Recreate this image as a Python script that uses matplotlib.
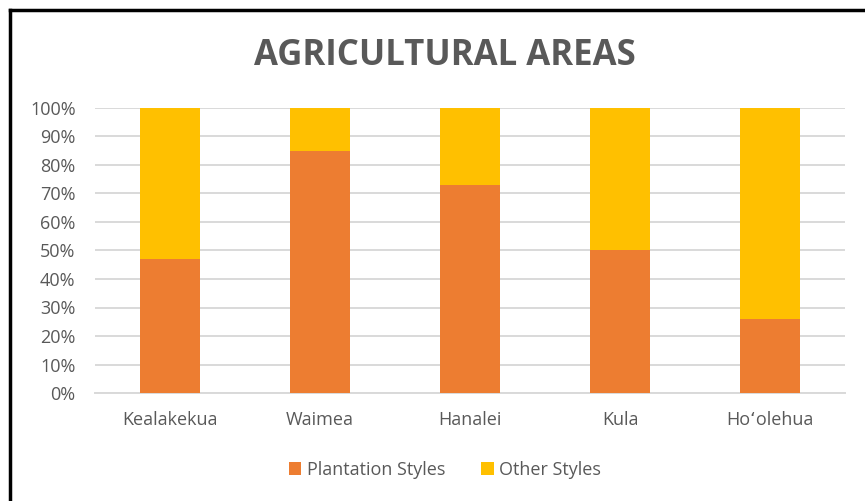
"""Stacked percentage bars: plantation vs other styles by agricultural area."""

import matplotlib.pyplot as plt
from matplotlib.lines import Line2D
from matplotlib.ticker import PercentFormatter

areas = ["Kealakekua", "Waimea", "Hanalei", "Kula", "Ho\u02bbolehua"]
plantation = [47, 85, 73, 50, 26]
other = [53, 15, 27, 50, 74]

ORANGE = "#ED7D31"
GOLD = "#FFC000"
TEXT = "#595959"
GRID = "#D9D9D9"

plt.rcParams["font.family"] = ["Open Sans", "DejaVu Sans"]

fig = plt.figure(figsize=(8.65, 5.01), dpi=100)
ax = fig.add_axes([95 / 865, 1 - 393 / 501, 750 / 865, 285 / 501])

x = range(len(areas))
ax.bar(x, plantation, width=0.4, color=ORANGE, label="Plantation Styles", zorder=3)
ax.bar(x, other, width=0.4, bottom=plantation, color=GOLD, label="Other Styles", zorder=3)

ax.set_xlim(-0.5, len(areas) - 0.5)
ax.set_ylim(0, 100)
ax.set_yticks(range(0, 101, 10))
ax.yaxis.set_major_formatter(PercentFormatter(decimals=0))
ax.set_xticks(list(x))
ax.set_xticklabels(areas)
ax.tick_params(axis="both", length=0, labelsize=13, colors=TEXT)
ax.tick_params(axis="x", pad=13)
ax.tick_params(axis="y", pad=14)
ax.grid(axis="y", color=GRID, linewidth=1.4, zorder=0)
for side in ("left", "right", "top"):
    ax.spines[side].set_visible(False)
ax.spines["bottom"].set_color(GRID)
ax.spines["bottom"].set_linewidth(1.4)

fig.text(445 / 865, 1 - 56 / 501, "AGRICULTURAL AREAS", ha="center", va="center",
         fontsize=25, fontweight="bold", color=TEXT)

ax.legend(loc="center", frameon=False, ncol=2, fontsize=13, labelcolor=TEXT,
          handlelength=0.7, handleheight=0.7, handletextpad=0.3, columnspacing=2.0)
leg = ax.get_legend()
leg.set_bbox_to_anchor((445 / 865, 1 - 470 / 501), transform=fig.transFigure)

# partial frame around the chart (left and top only, as in the source)
fig.add_artist(Line2D([10 / 865, 10 / 865], [0, 1 - 9.5 / 501], transform=fig.transFigure,
                      color="black", linewidth=2.5))
fig.add_artist(Line2D([10 / 865, 1], [1 - 9.5 / 501, 1 - 9.5 / 501], transform=fig.transFigure,
                      color="black", linewidth=2.5))

fig.savefig("out.png", dpi=100)
